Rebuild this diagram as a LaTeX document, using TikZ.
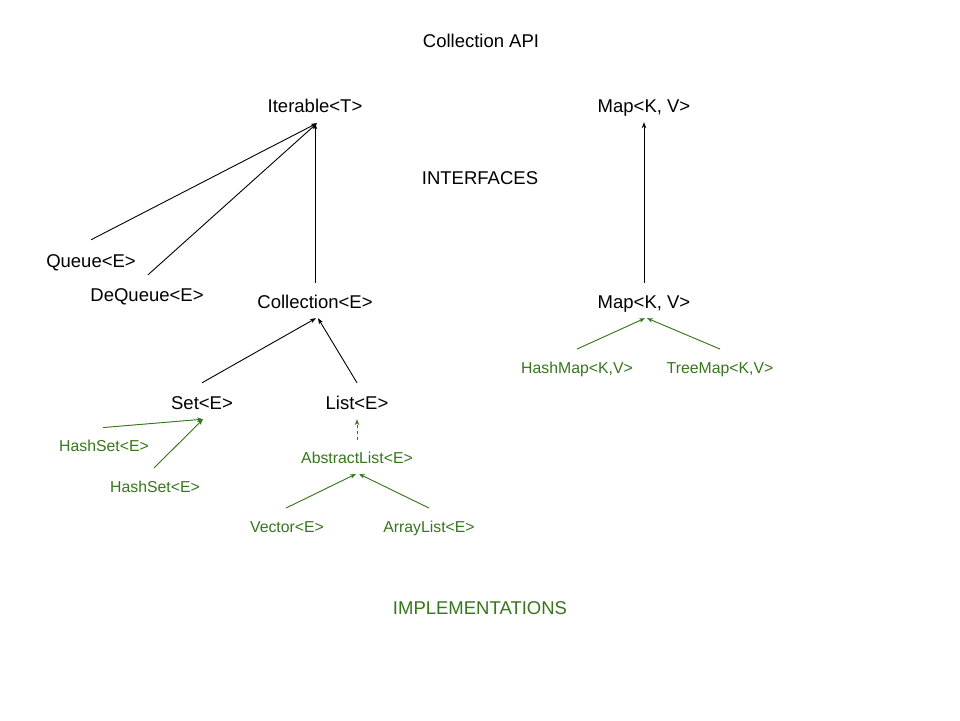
\documentclass[tikz,border=0pt]{standalone}
\usepackage{fontspec}
\setmainfont{Liberation Sans}
\usetikzlibrary{arrows.meta}
\definecolor{impl}{HTML}{38761D}
\tikzset{
  iface/.style={inner sep=0pt, text height=15.5pt, text depth=1.5pt, font=\fontsize{18.5}{22}\selectfont, text=black},
  impln/.style={inner sep=0pt, text height=13.25pt, text depth=1.25pt, font=\fontsize{15.8}{19}\selectfont, text=impl},
  arr/.style={line width=0.9pt, -{Stealth[length=6pt,width=4.5pt]}},
  garr/.style={arr, draw=impl, fill=impl},
}
\begin{document}
\begin{tikzpicture}[x=1pt,y=-1pt]
\fill[white] (0,0) rectangle (960,720);
\useasboundingbox (0,0) rectangle (960,720);

\node[iface] (title) at (481,40) {Collection API};
\node[iface] (iter) at (315,105) {Iterable<T>};
\node[iface] (mapt) at (644,105) {Map<K, V>};
\node[iface] (ifc) at (480,177) {INTERFACES};
\node[iface] (queue) at (91,260) {Queue<E>};
\node[iface] (deq) at (147,294) {DeQueue<E>};
\node[iface] (coll) at (315,301) {Collection<E>};
\node[iface] (mapb) at (644,301) {Map<K, V>};
\node[impln] (hmap) at (577,367) {HashMap<K,V>};
\node[impln] (tmap) at (720,367) {TreeMap<K,V>};
\node[iface] (set) at (202,402) {Set<E>};
\node[iface] (list) at (357,402) {List<E>};
\node[impln] (hs1) at (104,445) {HashSet<E>};
\node[impln] (hs2) at (155,486) {HashSet<E>};
\node[impln] (alist) at (357,457) {AbstractList<E>};
\node[impln] (vec) at (287,526) {Vector<E>};
\node[impln] (arl) at (429,526) {ArrayList<E>};
\node[iface, text=impl] (impl) at (480,607) {IMPLEMENTATIONS};

% interfaces
\draw[arr] ([yshift=11.5pt]queue.north) -- ([xshift=2pt,yshift=-9.5pt]iter.south);
\draw[arr] ([xshift=1pt,yshift=10.5pt]deq.north) -- ([xshift=2pt,yshift=-9.5pt]iter.south);
\draw[arr] ([yshift=9.5pt]coll.north) -- ([yshift=-9.5pt]iter.south);
\draw[arr] ([yshift=9.5pt]mapb.north) -- ([yshift=-8.5pt]mapt.south);
\draw[arr] ([yshift=10.5pt]set.north) -- ([xshift=1pt,yshift=-8.5pt]coll.south);
\draw[arr] ([yshift=10.5pt]list.north) -- ([xshift=3pt,yshift=-8.5pt]coll.south);

% implementations
\draw[garr] ([xshift=-1pt,yshift=10pt]hs1.north) -- ([xshift=1pt,yshift=-8.5pt]set.south);
\draw[garr] ([xshift=-1pt,yshift=10.5pt]hs2.north) -- ([xshift=1pt,yshift=-8.5pt]set.south);
\draw[garr, dashed] ([yshift=10pt]alist.north) -- ([yshift=-8.5pt]list.south);
\draw[garr] ([xshift=-1pt,yshift=10.5pt]vec.north) -- ([xshift=-1pt,yshift=-9.5pt]alist.south);
\draw[garr] ([yshift=10.5pt]arl.north) -- ([xshift=2pt,yshift=-9.5pt]alist.south);
\draw[garr] ([yshift=10.5pt]hmap.north) -- ([xshift=1pt,yshift=-8.5pt]mapb.south);
\draw[garr] ([yshift=10.5pt]tmap.north) -- ([xshift=3pt,yshift=-8.5pt]mapb.south);
\end{tikzpicture}
\end{document}
